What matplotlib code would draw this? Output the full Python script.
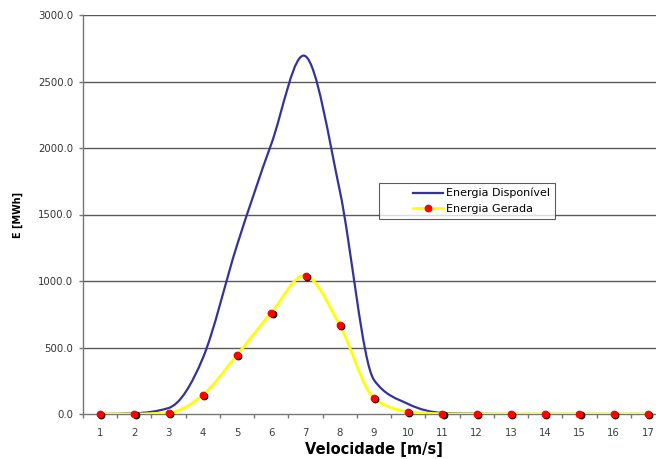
import numpy as np
import matplotlib
matplotlib.use("Agg")
import matplotlib.pyplot as plt
from matplotlib.path import Path
from matplotlib.patches import PathPatch
from matplotlib.lines import Line2D
from matplotlib.legend_handler import HandlerLine2D
import matplotlib.transforms as mtransforms

velocidade = [1, 2, 3, 4, 5, 6, 7, 8, 9, 10, 11, 12, 13, 14, 15, 16, 17]
energia_disponivel = [0, 5, 45, 420, 1270, 2030, 2690, 1680, 256, 75, 8, 2, 0, 0, 0, 0, 0]
energia_gerada = [0, 0, 10, 143, 444, 762, 1040, 668, 120, 18, 2, 0, 0, 0, 0, 0, 0]
yticks = [0, 500, 1000, 1500, 2000, 2500, 3000]

BLUE = "#333399"
YELLOW = "#FFFF00"
RED = "#FF0000"
FONT = "DejaVu Sans"

W, H = 656, 459
AX_L, AX_R, AX_T, AX_B = 83, 665, 15, 414


def smooth_path(x, y):
    """Smoothed line as cubic Bezier segments (Catmull-Rom tangents, limited
    in monotone stretches so the curve does not overshoot)."""
    x = np.asarray(x, float)
    y = np.asarray(y, float)
    n = len(x)
    d = np.diff(y) / np.diff(x)
    m = np.zeros(n)
    m[0], m[-1] = d[0], d[-1]
    for i in range(1, n - 1):
        mi = (y[i + 1] - y[i - 1]) / (x[i + 1] - x[i - 1])
        if d[i - 1] * d[i] > 0:
            lim = 2 * min(abs(d[i - 1]), abs(d[i]))
            mi = np.sign(mi) * min(abs(mi), lim)
        elif d[i - 1] == 0 or d[i] == 0:
            mi = 0.0
        m[i] = mi
    verts = [(x[0], y[0])]
    codes = [Path.MOVETO]
    for i in range(n - 1):
        h = (x[i + 1] - x[i]) / 3
        verts += [(x[i] + h, y[i] + m[i] * h),
                  (x[i + 1] - h, y[i + 1] - m[i + 1] * h),
                  (x[i + 1], y[i + 1])]
        codes += [Path.CURVE4] * 3
    return Path(verts, codes)


fig = plt.figure(figsize=(6.56, 4.59), dpi=100)
ax = fig.add_axes([AX_L / W, 1 - AX_B / H, (AX_R - AX_L) / W, (AX_B - AX_T) / H])
ax.set_xlim(0.5, 17.5)
ax.set_ylim(0, 3000)

for v in yticks[1:]:
    ax.axhline(v, color="#5a5a5a", lw=1.0, zorder=1)

ax.add_patch(PathPatch(smooth_path(velocidade, energia_disponivel), fill=False,
                       edgecolor=BLUE, lw=1.6, zorder=3, capstyle="round", joinstyle="round"))
ax.add_patch(PathPatch(smooth_path(velocidade, energia_gerada), fill=False,
                       edgecolor=YELLOW, lw=2.0, zorder=4, capstyle="round", joinstyle="round"))
shadow = mtransforms.offset_copy(ax.transData, fig=fig, x=0.9, y=-0.9, units="points")
ax.plot(velocidade, energia_gerada, ls="none", marker="o", ms=4.6, color="black",
        transform=shadow, zorder=5, clip_on=False)
ax.plot(velocidade, energia_gerada, ls="none", marker="o", ms=4.6, color=RED,
        mec=RED, zorder=6, clip_on=False)

for s in ["top", "right"]:
    ax.spines[s].set_visible(False)
for s in ["left", "bottom"]:
    ax.spines[s].set_color("#777777")
    ax.spines[s].set_linewidth(1.0)
    ax.spines[s].set_zorder(2)

ax.set_yticks(yticks)
ax.set_yticklabels([f"{v:.1f}" for v in yticks])
ax.tick_params(axis="y", direction="out", length=3, width=1, color="#777777",
               pad=4, labelsize=7.3, labelcolor="#333333")
ax.set_xticks(velocidade)
ax.set_xticklabels([str(v) for v in velocidade])
ax.set_xticks(np.arange(0.5, 17.6, 1.0), minor=True)
ax.tick_params(axis="x", which="major", length=0, pad=10, labelsize=7.3, labelcolor="#334433")
ax.tick_params(axis="x", which="minor", direction="out", length=3, width=1, color="#777777")
for lab in ax.get_xticklabels() + ax.get_yticklabels():
    lab.set_family(FONT)

ax.set_xlabel("Velocidade [m/s]", fontsize=10.5, fontweight="bold", family=FONT, labelpad=3)
ax.set_ylabel("E [MWh]", fontsize=6.9, fontweight="bold", family=FONT, labelpad=11)

h1 = Line2D([], [], color=BLUE, lw=1.6)
h2 = Line2D([], [], color=YELLOW, lw=2.0, marker="o", ms=4.6, mfc=RED, mec=RED)
leg = ax.legend([h1, h2], ["Energia Disponível", "Energia Gerada"],
                loc="upper left", bbox_to_anchor=(0.509, 0.579), borderaxespad=0,
                prop={"family": FONT, "size": 8}, frameon=True, fancybox=False,
                handlelength=5.3, handletextpad=0.3, borderpad=0.45, labelspacing=0.5,
                handler_map={h1: HandlerLine2D(xpad=2.6), h2: HandlerLine2D(xpad=2.6)})
leg.get_frame().set_edgecolor("#333333")
leg.get_frame().set_linewidth(0.8)
leg.set_zorder(10)

fig.savefig("out.png", dpi=100)
